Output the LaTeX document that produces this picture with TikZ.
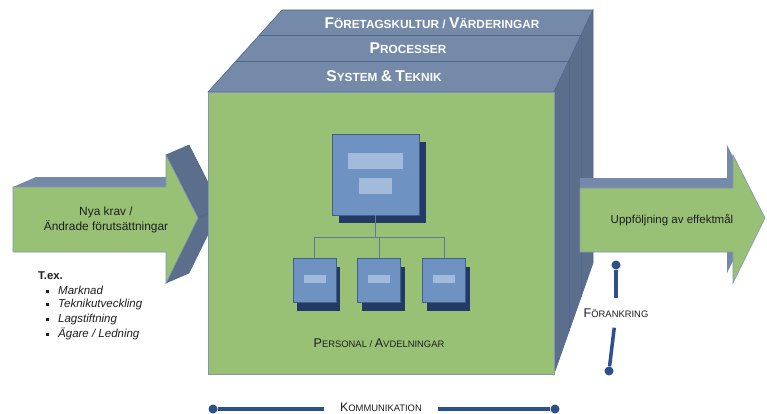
\documentclass[tikz,border=0pt]{standalone}
\usepackage{fontspec}
\setmainfont{Liberation Sans}
\usetikzlibrary{shadows,calc}
\definecolor{greenf}{RGB}{152,193,118}
\definecolor{topblue}{RGB}{117,137,168}
\definecolor{sideblue}{RGB}{91,110,140}
\definecolor{edgeblue}{RGB}{80,104,145}
\definecolor{boxfill}{RGB}{110,146,193}
\definecolor{boxedge}{RGB}{64,96,140}
\definecolor{boxshadow}{RGB}{34,58,100}
\definecolor{boxinner}{RGB}{163,187,218}
\definecolor{connc}{RGB}{94,122,148}
\definecolor{navy}{RGB}{43,80,140}
\definecolor{txt}{RGB}{30,30,30}
\newcommand\scb[2]{{\fontsize{#1}{#1}\selectfont #2}}
\newcommand\sqbullet{\raisebox{1.5pt}{\rule{3pt}{3pt}}\hspace{9pt}}
\begin{document}
\begin{tikzpicture}[x=1pt,y=-1pt,
  greenface/.style={fill=greenf,draw=edgeblue!70,line width=0.6pt},
  topface/.style={fill=topblue,draw=edgeblue,line width=0.6pt},
  sideface/.style={fill=sideblue,draw=edgeblue,line width=0.6pt},
  bigbox/.style={draw=boxedge,fill=boxfill,line width=0.8pt,minimum width=87pt,minimum height=81pt,inner sep=0pt,
    drop shadow={shadow xshift=7pt,shadow yshift=-8pt,opacity=1,fill=boxshadow}},
  smallbox/.style={draw=boxedge,fill=boxfill,line width=0.8pt,minimum width=43pt,minimum height=44pt,inner sep=0pt,
    drop shadow={shadow xshift=4pt,shadow yshift=-9pt,opacity=1,fill=boxshadow}},
  innerbar/.style={fill=boxinner},
  conn/.style={draw=connc,line width=1pt},
  navyline/.style={draw=navy,line width=3.5pt},
  dot/.style={circle,fill=navy,minimum size=9pt,inner sep=0pt},
  bandtext/.style={text=white,font=\bfseries\fontsize{11.8}{13}\selectfont},
  lbl/.style={text=txt,font=\fontsize{11.9}{14.5}\selectfont,align=center},
  sclbl/.style={text=txt,font=\fontsize{9.4}{11}\selectfont,inner sep=0pt},
  listitem/.style={text=txt,anchor=west,inner sep=0pt,font=\itshape\fontsize{11.5}{13}\selectfont}
]
\useasboundingbox (0,0) rectangle (767,414);
\fill[white] (0,0) rectangle (767,414);

% left arrow (3D)
\fill[topblue] (13,187) -- (36,177) -- (189,177) -- (166,187) -- cycle;
\filldraw[sideface] (166,155) -- (189,145) -- (221,208) -- (198,218) -- cycle;
\filldraw[sideface] (198,218) -- (221,208) -- (189,273) -- (166,283) -- cycle;
\filldraw[greenface] (13,187) -- (166,187) -- (166,155) -- (198,218) -- (166,283) -- (166,252) -- (13,252) -- cycle;
\node[lbl] (inA) at (106,220) {Nya krav /\\Ändrade förutsättningar};

% cube
\filldraw[topface] (208,92) -- (282,10) -- (593,10) -- (554,92) -- cycle;
\draw[edgeblue,line width=0.6pt] (236,61) -- (569,61) (259,35) -- (581,35);
\filldraw[sideface] (554,92) -- (593,10) -- (593,263) -- (554,374) -- cycle;
\draw[edgeblue,line width=0.6pt] (569,61) -- (569,331) (581,35) -- (581,297);
\filldraw[greenface] (208,92) rectangle (554,374);

\node[bandtext] (b1) at (432,23) {\scb{15.6}{F}ÖRETAGSKULTUR / \scb{15.6}{V}ÄRDERINGAR};
\node[bandtext] (b2) at (408,48) {\scb{15.6}{P}ROCESSER};
\node[bandtext] (b3) at (384,76) {\scb{15.6}{S}YSTEM \scb{15.6}{\&} \scb{15.6}{T}EKNIK};

% org chart
\node[bigbox] (boss) at (375.5,174.5) {};
\node[smallbox] (s1) at (314.5,280) {};
\node[smallbox] (s2) at (379,280) {};
\node[smallbox] (s3) at (444,280) {};
\fill[innerbar] ($(boss.center)+(-27.5,-21.5)$) rectangle ($(boss.center)+(27.5,-5.5)$);
\fill[innerbar] ($(boss.center)+(-16.5,3.5)$) rectangle ($(boss.center)+(16.5,19.5)$);
\foreach \s in {s1,s2,s3}{
  \fill[innerbar] ($(\s.center)+(-11,-5)$) rectangle ($(\s.center)+(11,3)$);
  \draw[conn] (boss.south) -- ++(0,22) -| (\s.north);
}
\node[sclbl] (pers) at (379,343) {\scb{12.6}{P}ERSONAL / \scb{12.6}{A}VDELNINGAR};

% right arrow (3D)
\fill[topblue] (580,178) -- (727,178) -- (727,145) -- (759,208) -- (727,273) -- (727,242) -- (580,242) -- cycle;
\filldraw[greenface] (580,188) -- (733,188) -- (733,155) -- (765,218) -- (733,283) -- (733,252) -- (580,252) -- cycle;
\node[lbl,font=\fontsize{11.5}{13}\selectfont] (outA) at (672,220) {Uppföljning av effektmål};

% examples list
\node[listitem,font=\bfseries\fontsize{11.3}{13}\selectfont] (ex0) at (38,276) {T.ex.};
\node[listitem] (ex1) at (46,290.5) {\sqbullet Marknad};
\node[listitem] (ex2) at (46,305) {\sqbullet Teknikutveckling};
\node[listitem] (ex3) at (46,319.5) {\sqbullet Lagstiftning};
\node[listitem] (ex4) at (46,334) {\sqbullet Ägare / Ledning};

% förankring
\node[dot] (f1) at (616,265) {};
\node[dot] (f2) at (609,371) {};
\node[sclbl,minimum height=29pt] (fl) at (616,313) {\scb{12.6}{F}ÖRANKRING};
\draw[navyline] (f1) -- (fl);
\draw[navyline] (fl) -- (f2);

% kommunikation
\node[dot] (k1) at (213,409) {};
\node[dot] (k2) at (555,409) {};
\node[sclbl,minimum width=114pt] (kl) at (381,407.5) {\scb{12.3}{K}OMMUNIKATION};
\draw[navyline] (k1) -- (k1 -| kl.west);
\draw[navyline] (k2 -| kl.east) -- (k2);
\end{tikzpicture}
\end{document}
